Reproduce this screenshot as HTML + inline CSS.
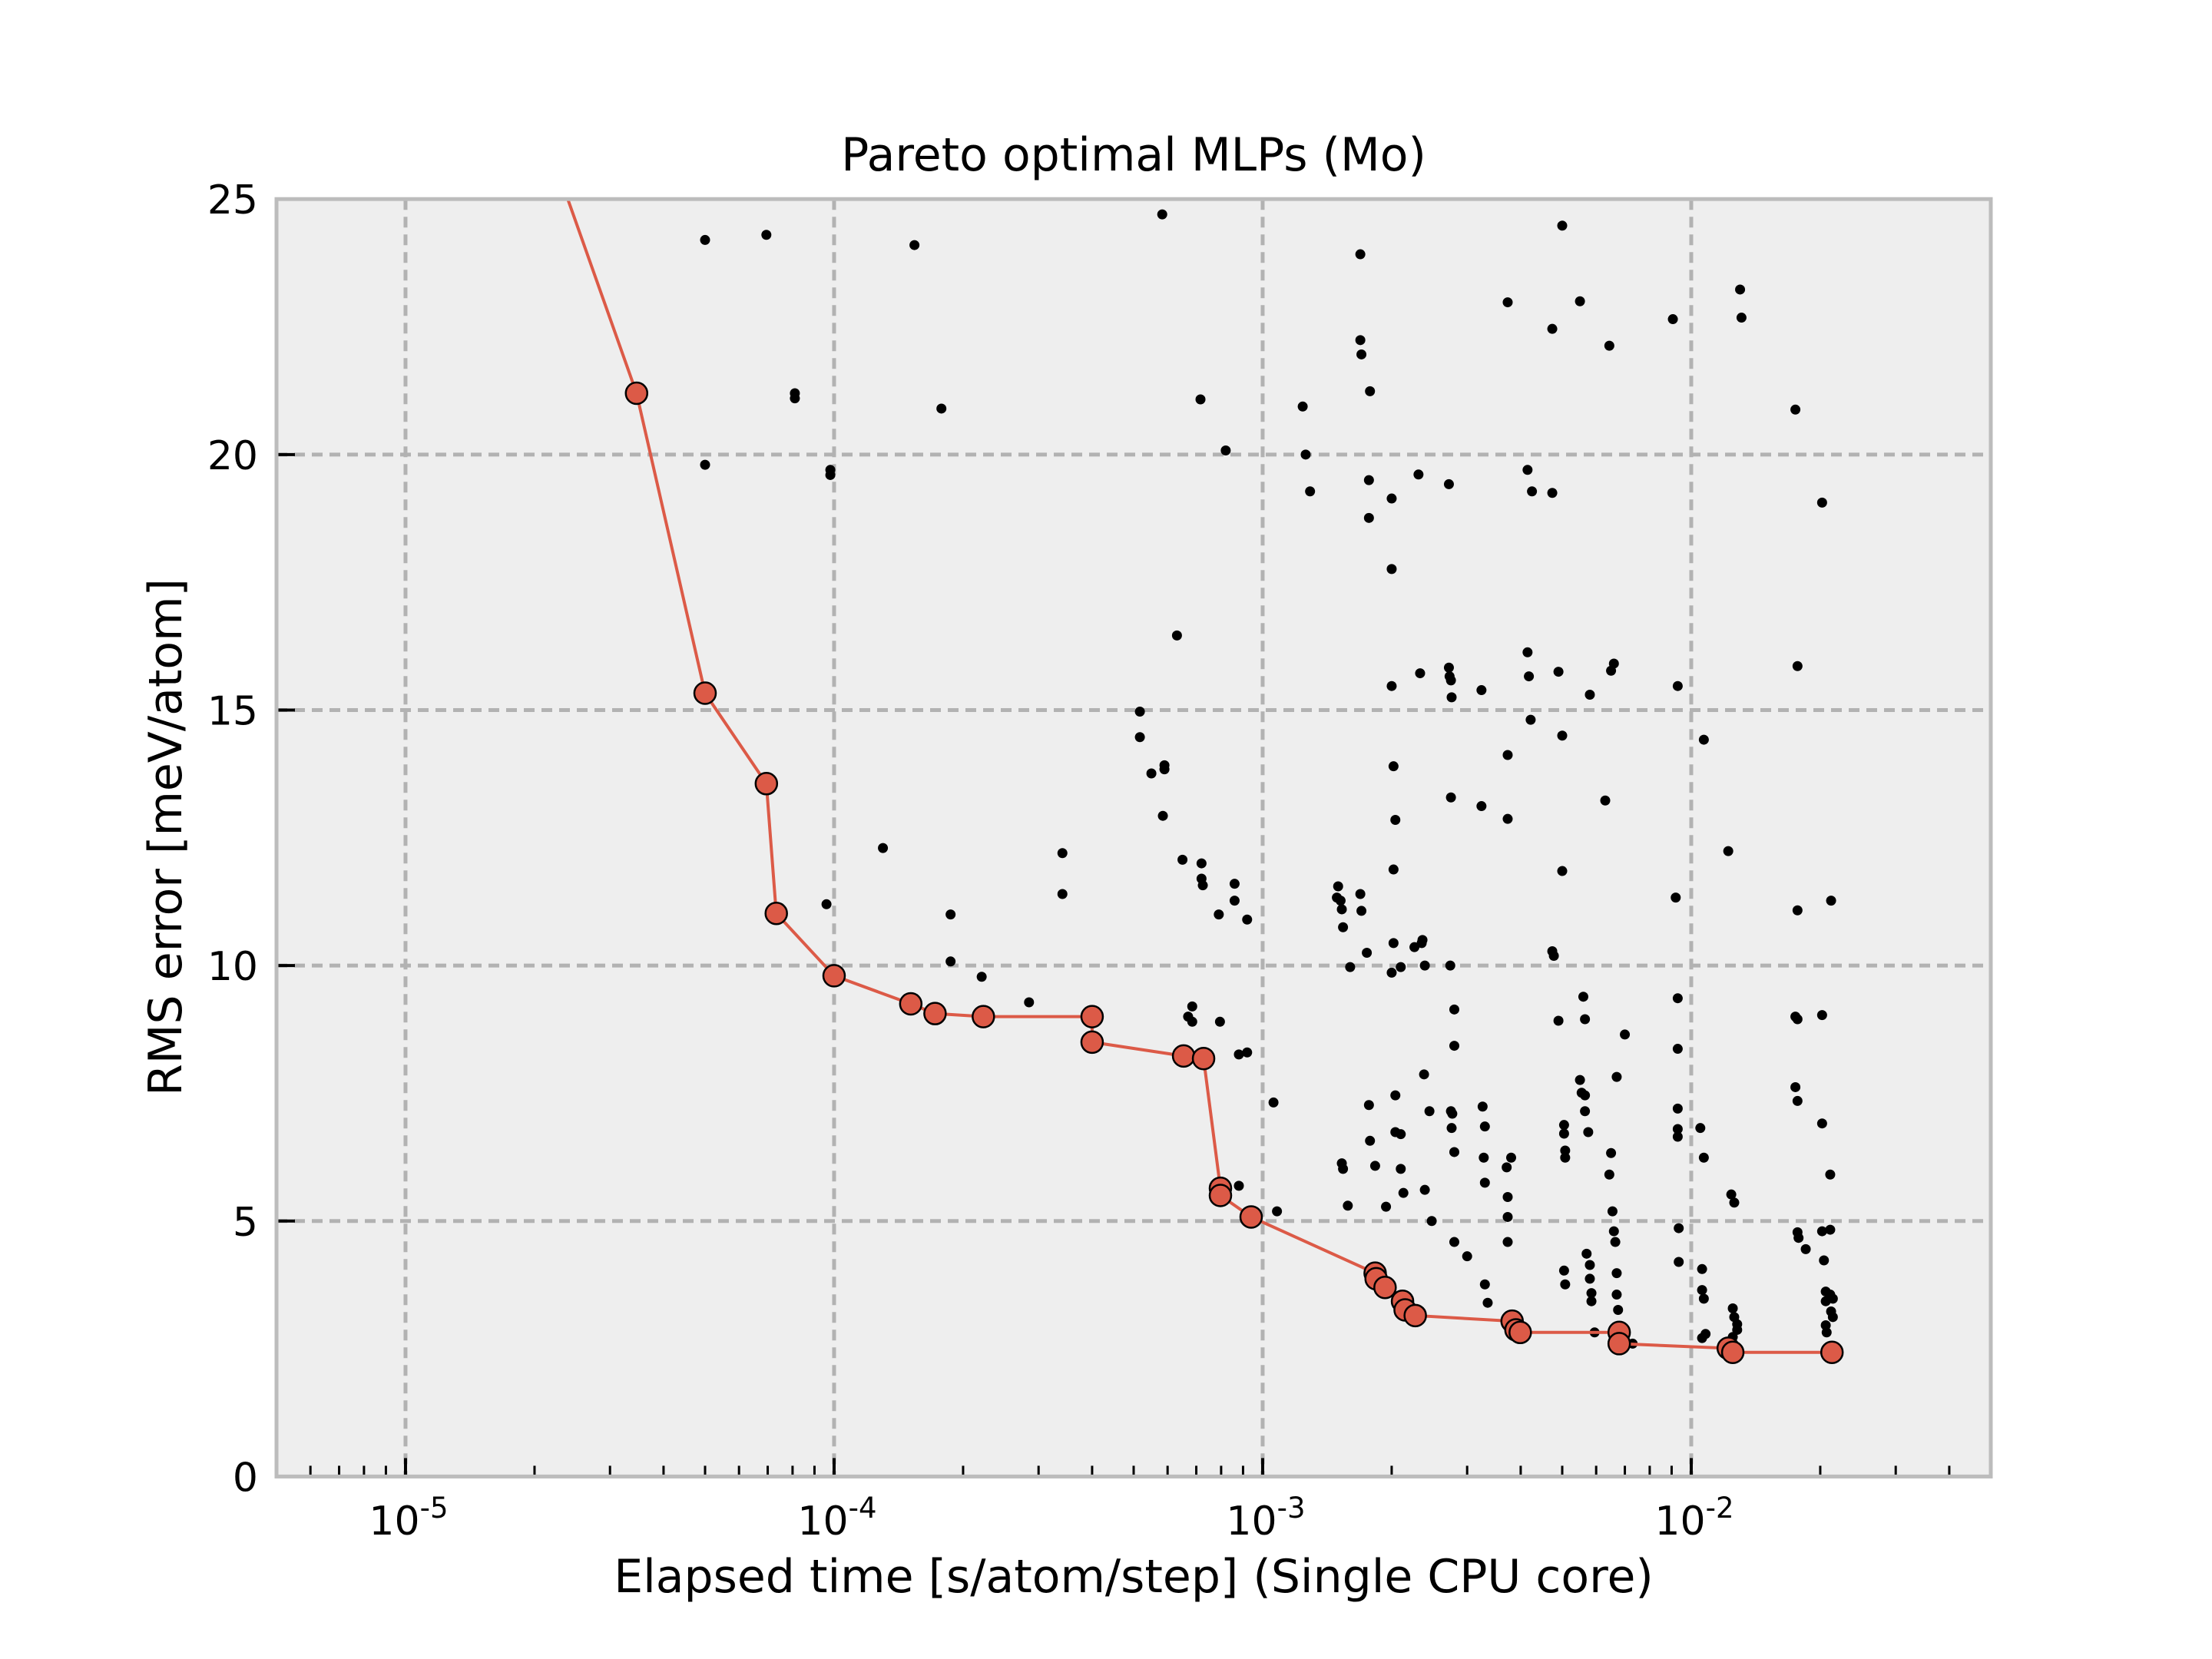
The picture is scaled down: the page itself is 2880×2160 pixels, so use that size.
<!DOCTYPE html>
<html><head><meta charset="utf-8"><style>
html,body{margin:0;padding:0;background:#fff;}
svg{display:block;font-family:"DejaVu Sans","Liberation Sans",sans-serif;}
</style></head><body>
<svg id="chart" width="2880" height="2160" viewBox="0 0 2880 2160" xmlns="http://www.w3.org/2000/svg">
<defs><clipPath id="clip"><rect x="360" y="259.2" width="2232" height="1663.2"/></clipPath></defs>
<rect x="360" y="259.2" width="2232" height="1663.2" fill="#eeeeee"/>
<g id="grid"></g>
<g id="marks" clip-path="url(#clip)"></g>
<g id="ticks"></g>
<rect x="360" y="259.2" width="2232" height="1663.2" fill="none" stroke="#bcbcbc" stroke-width="5"/>
<text x="1476" y="222" font-size="60" text-anchor="middle" fill="#000">Pareto optimal MLPs (Mo)</text>
<text x="1476" y="2073" font-size="60" text-anchor="middle" fill="#000">Elapsed time [s/atom/step] (Single CPU core)</text>
<text x="0" y="0" font-size="60" text-anchor="middle" fill="#000" transform="translate(236,1090) rotate(-90)">RMS error [meV/atom]</text>
</svg>
<script>
const paretoX=[2.3e-5,3.46e-5,5.0e-5,6.95e-5,7.33e-5,1.0e-4,1.51e-4,1.72e-4,2.23e-4,4.0e-4,4.0e-4,6.54e-4,7.28e-4,7.97e-4,7.97e-4,9.4e-4,1.83e-3,1.84e-3,1.93e-3,2.12e-3,2.15e-3,2.27e-3,3.82e-3,3.90e-3,3.99e-3,6.79e-3,6.79e-3,1.22e-2,1.25e-2,2.13e-2];
const paretoY=[25.4,21.2,15.33,13.56,11.02,9.8,9.25,9.06,9.0,9.0,8.5,8.23,8.18,5.64,5.5,5.08,3.98,3.87,3.70,3.43,3.26,3.15,3.04,2.87,2.82,2.82,2.6,2.51,2.43,2.43];
const dotX=[5.0e-5,6.95e-5,5.0e-5,8.1e-5,8.1e-5,9.8e-5,9.8e-5,9.6e-5,1.30e-4,1.54e-4,1.78e-4,1.87e-4,1.87e-4,2.21e-4,2.85e-4,3.41e-4,3.41e-4,5.83e-4,5.17e-4,5.17e-4,5.5e-4,5.9e-4,5.9e-4,5.85e-4,6.31e-4,6.5e-4,7.16e-4,7.2e-4,7.2e-4,7.25e-4,8.6e-4,8.6e-4,7.9e-4,6.7e-4,6.85e-4,6.85e-4,8.2e-4,7.95e-4,8.8e-4,9.2e-4,9.2e-4,8.8e-4,1.06e-3,1.08e-3,1.24e-3,1.26e-3,1.29e-3,1.5e-3,1.49e-3,1.52e-3,1.53e-3,1.54e-3,1.53e-3,1.54e-3,1.58e-3,1.6e-3,1.69e-3,1.69e-3,1.70e-3,1.69e-3,1.70e-3,1.75e-3,1.77e-3,1.77e-3,1.78e-3,1.77e-3,1.78e-3,1.83e-3,1.94e-3,2.0e-3,2.0e-3,2.0e-3,2.0e-3,2.02e-3,2.04e-3,2.02e-3,2.02e-3,2.04e-3,2.04e-3,2.1e-3,2.13e-3,2.1e-3,2.1e-3,2.26e-3,2.31e-3,2.33e-3,2.35e-3,2.36e-3,2.38e-3,2.39e-3,2.39e-3,2.45e-3,2.48e-3,2.72e-3,2.72e-3,2.73e-3,2.75e-3,2.76e-3,2.75e-3,2.74e-3,2.8e-3,2.8e-3,2.75e-3,2.77e-3,2.76e-3,2.8e-3,2.8e-3,3.0e-3,3.24e-3,3.24e-3,3.26e-3,3.3e-3,3.28e-3,3.3e-3,3.3e-3,3.35e-3,3.73e-3,3.73e-3,3.73e-3,3.71e-3,3.73e-3,3.73e-3,3.73e-3,3.8e-3,4.15e-3,4.25e-3,4.15e-3,4.18e-3,4.22e-3,4.74e-3,4.74e-3,4.9e-3,5.0e-3,5.0e-3,5.0e-3,4.74e-3,4.78e-3,4.9e-3,5.05e-3,5.05e-3,5.08e-3,5.08e-3,5.05e-3,5.08e-3,5.5e-3,5.6e-3,5.65e-3,5.5e-3,5.55e-3,5.65e-3,5.65e-3,5.75e-3,5.8e-3,5.7e-3,5.8e-3,5.8e-3,5.85e-3,5.85e-3,5.95e-3,6.44e-3,6.3e-3,6.5e-3,6.6e-3,6.5e-3,6.44e-3,6.55e-3,6.6e-3,6.65e-3,6.7e-3,6.7e-3,6.7e-3,6.75e-3,7.0e-3,7.3e-3,9.06e-3,9.3e-3,9.2e-3,9.3e-3,9.3e-3,9.3e-3,9.3e-3,9.3e-3,9.35e-3,9.35e-3,1.05e-2,1.07e-2,1.07e-2,1.06e-2,1.06e-2,1.07e-2,1.08e-2,1.06e-2,1.22e-2,1.24e-2,1.26e-2,1.25e-2,1.26e-2,1.28e-2,1.28e-2,1.25e-2,1.3e-2,1.31e-2,1.75e-2,1.77e-2,1.77e-2,1.77e-2,1.75e-2,1.75e-2,1.77e-2,1.77e-2,1.78e-2,1.85e-2,2.02e-2,2.02e-2,2.02e-2,2.02e-2,2.04e-2,2.06e-2,2.06e-2,2.06e-2,2.07e-2,2.12e-2,2.11e-2,2.11e-2,2.11e-2,2.14e-2,2.12e-2,2.14e-2,2.12e-2];
const dotY=[24.2,24.3,19.8,21.2,21.1,19.7,19.6,11.2,12.3,24.1,20.9,11.0,10.08,9.78,9.28,12.2,11.4,24.7,14.97,14.47,13.76,13.92,13.84,12.93,16.46,12.07,21.08,12.0,11.7,11.57,11.6,11.27,11.0,9.0,9.2,8.9,20.08,8.9,8.26,8.3,10.9,5.69,7.32,5.19,20.94,20.0,19.28,11.55,11.33,11.27,11.1,10.75,6.13,6.02,5.3,9.97,23.92,22.24,21.96,11.4,11.07,10.25,19.5,18.76,21.24,7.27,6.57,6.08,5.28,9.86,17.76,19.14,15.47,13.9,12.85,11.88,10.44,7.46,6.74,6.02,5.55,9.97,6.7,10.36,19.61,15.72,10.44,10.5,7.87,5.61,10.0,7.15,5.0,19.42,15.83,15.66,15.58,15.25,13.29,10.0,9.14,8.43,7.15,7.1,6.82,6.35,4.59,4.31,15.39,13.12,7.24,6.85,6.24,5.75,3.76,3.4,22.98,14.12,12.87,6.05,5.47,5.08,4.59,6.24,19.7,19.28,16.13,15.66,14.81,22.46,19.25,15.75,24.48,14.5,11.85,10.28,10.19,8.92,6.88,6.71,6.38,6.24,4.03,3.76,23.0,9.39,8.95,7.76,7.51,7.46,7.15,6.74,15.3,4.36,4.14,3.87,3.59,3.43,2.82,22.13,13.23,15.77,15.91,6.33,5.91,5.19,4.8,4.59,7.82,3.98,3.56,3.26,8.65,2.6,22.65,15.47,11.33,9.36,8.37,7.2,6.8,6.65,4.86,4.2,6.82,6.24,14.42,4.06,3.65,3.48,2.79,2.71,12.24,5.52,5.36,3.29,3.12,2.98,2.87,2.73,23.23,22.68,20.88,15.86,11.08,8.95,9.0,7.62,7.35,4.78,4.67,4.45,19.06,9.03,6.91,4.8,4.23,3.62,3.43,2.96,2.82,11.27,5.91,4.83,3.56,3.48,3.23,3.12,2.51];
const xMajor=[1e-5,1e-4,1e-3,1e-2];
const xMajorExp=["-5","-4","-3","-2"];
const yTicks=[0,5,10,15,20,25];

const NS="http://www.w3.org/2000/svg";
const L=360,R=2592,T=259.2,B=1922.4,XMIN=Math.log10(5e-6),XMAX=Math.log10(5e-2);
const sx=v=>L+(Math.log10(v)-XMIN)/(XMAX-XMIN)*(R-L);
const sy=v=>B-v/25*(B-T);
function mk(tag,attrs,parent){const e=document.createElementNS(NS,tag);for(const k in attrs)e.setAttribute(k,attrs[k]);parent.appendChild(e);return e;}
const grid=document.getElementById('grid'),marks=document.getElementById('marks'),ticks=document.getElementById('ticks');

xMajor.forEach((v,i)=>{
  const x=sx(v);
  const g=mk('line',{x1:x,x2:x,y1:T,y2:B,stroke:'#b2b2b2','stroke-width':5,'stroke-dasharray':'14,9'},grid);
  
  
  const t=mk('line',{x1:x,x2:x,y1:B,y2:B-24,stroke:'#000','stroke-width':4},ticks);
  
  
  const lab=mk('text',{x:x+4,y:1998,'font-size':52,'text-anchor':'middle',fill:'#000'},ticks);
  
  
  lab.textContent='10';
  const sup=document.createElementNS(NS,'tspan');
  sup.setAttribute('dy','-22');sup.setAttribute('font-size','37');
  sup.textContent=xMajorExp[i];
  lab.appendChild(sup);
});
for(let d=-6;d<=-2;d++){for(let m=2;m<=9;m++){const v=m*Math.pow(10,d);if(v<5e-6||v>5e-2)continue;
  const x=sx(v);
  const t=mk('line',{x1:x,x2:x,y1:B,y2:B-14,stroke:'#000','stroke-width':3},ticks);
  
  
}}
yTicks.forEach(v=>{
  const y=sy(v);
  if(v>0&&v<25){const g=mk('line',{x1:L,x2:R,y1:y,y2:y,stroke:'#b2b2b2','stroke-width':5,'stroke-dasharray':'14,9'},grid);
    
    }
  const t=mk('line',{x1:L,x2:L+24,y1:y,y2:y,stroke:'#000','stroke-width':4},ticks);
  
  
  const lab=mk('text',{x:336,y:y+19,'font-size':52,'text-anchor':'end',fill:'#000'},ticks);
  
  
  lab.textContent=String(v);
});
dotX.forEach((v,i)=>{
  const c=mk('circle',{cx:sx(v),cy:sy(dotY[i]),r:6.5,fill:'#000'},marks);
  
  
});
const pts=paretoX.map((v,i)=>sx(v)+','+sy(paretoY[i])).join(' ');
const pl=mk('polyline',{points:pts,fill:'none',stroke:'#dc5a47','stroke-width':4},marks);


paretoX.forEach((v,i)=>{
  const c=mk('circle',{cx:sx(v),cy:sy(paretoY[i]),r:14,fill:'#dc5a47',stroke:'#000','stroke-width':2.5},marks);
  
  
});
</script>
</body></html>
